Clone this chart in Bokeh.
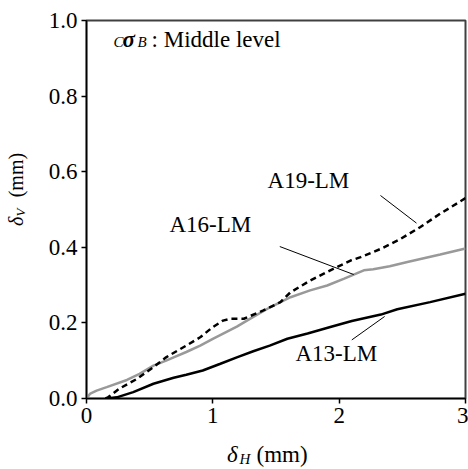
from bokeh.plotting import figure
from bokeh.models import Label, FixedTicker, PrintfTickFormatter, Range1d
from bokeh.layouts import row, column
from bokeh.embed import file_html
from bokeh.resources import INLINE
import math

# ---- data ----
a13_x = [0.16, 0.24, 0.37, 0.53, 0.69, 0.79, 0.92, 1.06, 1.19, 1.32, 1.45, 1.59,
         1.75, 1.93, 2.10, 2.33, 2.46, 2.72, 3.0]
a13_y = [0.0, 0.003, 0.017, 0.039, 0.055, 0.063, 0.074, 0.092, 0.109, 0.125, 0.14,
         0.158, 0.172, 0.189, 0.205, 0.222, 0.236, 0.255, 0.277]

a16_x = [0.0, 0.03, 0.08, 0.16, 0.32, 0.42, 0.53, 0.63, 0.69, 0.79, 0.90, 1.0, 1.19,
         1.30, 1.457, 1.615, 1.77, 1.905, 2.04, 2.195, 2.27, 2.40, 2.54, 2.80, 3.0]
a16_y = [0.0, 0.013, 0.021, 0.03, 0.049, 0.065, 0.087, 0.10, 0.109, 0.123, 0.14, 0.158,
         0.19, 0.212, 0.242, 0.268, 0.286, 0.299, 0.317, 0.339, 0.342, 0.350, 0.361,
         0.381, 0.397]

a19_x = [0.15, 0.17, 0.26, 0.40, 0.53, 0.63, 0.79, 0.90, 1.0, 1.08, 1.14, 1.245, 1.40,
         1.535, 1.615, 1.77, 1.93, 2.09, 2.17, 2.33, 2.485, 2.64, 2.80, 3.0]
a19_y = [0.0, 0.003, 0.026, 0.052, 0.083, 0.109, 0.14, 0.162, 0.189, 0.206, 0.211, 0.211,
         0.233, 0.255, 0.281, 0.312, 0.339, 0.365, 0.374, 0.396, 0.422, 0.453, 0.489, 0.53]

x_ticks = [0, 1, 2, 3]
y_ticks = [0.0, 0.2, 0.4, 0.6, 0.8, 1.0]

series_names = ["A13-LM", "A16-LM", "A19-LM"]
name_x = [1.654, 0.657, 1.433]
name_y = [0.099, 0.440, 0.557]
leader_x0 = [2.10, 1.53, 2.327]
leader_y0 = [0.155, 0.402, 0.537]
leader_x1 = [2.36, 2.115, 2.612]
leader_y1 = [0.217, 0.328, 0.464]

FONT = "Liberation Serif"
FS = 23
SUB = 15

# ---- layout sizes ----
YT_W = 36          # y-title strip
MAIN_W = 432
MAIN_H = 434
XT_H = 34          # x-title strip


def blank(w, h):
    f = figure(width=w, height=h, output_backend="svg", toolbar_location=None,
               title=None, x_range=Range1d(0, w), y_range=Range1d(0, h),
               x_axis_location=None, y_axis_location=None,
               min_border=0, min_border_left=0, min_border_right=0,
               min_border_top=0, min_border_bottom=0)
    f.outline_line_color = None
    f.xgrid.visible = False
    f.ygrid.visible = False
    f.background_fill_color = "white"
    f.border_fill_color = "white"
    return f


def lab(fig, x, y, t, size=FS, style="normal", rotated=False):
    # small correction so that the anchor lands on the glyph baseline
    shift = round(0.33 * size, 1)
    kw = dict(x_offset=-shift, angle=math.pi / 2) if rotated else dict(y_offset=shift)
    fig.add_layout(Label(x=x, y=y, text=t, text_font=FONT,
                         text_font_size=f"{size}px", text_font_style=style,
                         text_align="left", text_baseline="alphabetic",
                         text_color="black", **kw))


p = figure(width=MAIN_W, height=MAIN_H, output_backend="svg", toolbar_location=None,
           title=None, x_range=Range1d(0, 3), y_range=Range1d(0, 1),
           min_border_left=50, min_border_right=3, min_border_top=20,
           min_border_bottom=36)
p.background_fill_color = "white"
p.border_fill_color = "white"
p.outline_line_color = "#404040"
p.outline_line_width = 2
p.xgrid.visible = False
p.ygrid.visible = False

for ax in (p.xaxis[0], p.yaxis[0]):
    ax.axis_line_color = "black"
    ax.axis_line_width = 1.5
    ax.major_tick_line_color = "black"
    ax.major_tick_line_width = 1.5
    ax.major_tick_out = 5
    ax.major_tick_in = 0
    ax.minor_tick_line_color = None
    ax.major_label_text_font = FONT
    ax.major_label_text_font_size = f"{FS}px"
    ax.major_label_text_color = "black"
    ax.major_label_standoff = 4

p.xaxis.ticker = FixedTicker(ticks=x_ticks)
p.yaxis.ticker = FixedTicker(ticks=y_ticks)
p.xaxis.formatter = PrintfTickFormatter(format="%d")
p.yaxis.formatter = PrintfTickFormatter(format="%.1f")

p.line(a16_x, a16_y, line_color="#999999", line_width=2.5)
p.line(a13_x, a13_y, line_color="black", line_width=2.5)
p.line(a19_x, a19_y, line_color="black", line_width=2.5, line_dash="6 4")

p.segment(leader_x0, leader_y0, leader_x1, leader_y1, line_color="black", line_width=1)

for n, x, y in zip(series_names, name_x, name_y):
    lab(p, x, y, n)

# annotation  C sigma B : Middle level
lab(p, 0.214, 0.929, "C", SUB, "italic")
lab(p, 0.285, 0.929, "σ", FS, "bold italic")
lab(p, 0.404, 0.929, "B", SUB, "italic")
lab(p, 0.515, 0.929, ": Middle level")

# y axis title strip (rotated text, reads bottom to top)
yt = blank(YT_W, MAIN_H)
lab(yt, 22, 198, "δ", 20, "italic", rotated=True)
lab(yt, 24.5, 209, "V", 13, "italic", rotated=True)
lab(yt, 22, 231, "(mm)", 20, "normal", rotated=True)

# x axis title strip
xt = blank(YT_W + MAIN_W, XT_H)
lab(xt, 226.5, 6.5, "δ", FS, "italic")
lab(xt, 239, 4.2, "H", SUB, "italic")
lab(xt, 256, 6.5, "(mm)")

layout = column(row(yt, p, spacing=0), xt, spacing=0)

open("out.html", "w").write(file_html(layout, INLINE))
